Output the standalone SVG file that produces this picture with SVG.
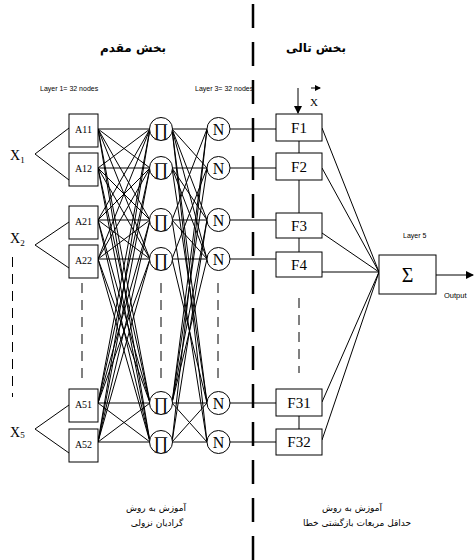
<svg xmlns="http://www.w3.org/2000/svg" width="474" height="560" viewBox="0 0 474 560">
<defs>
<style>
.c{stroke:#000;stroke-width:1;fill:none}
.box{fill:#fff;stroke:#000;stroke-width:1}
text{opacity:0.99}
.ser{font-family:"Liberation Serif","Times New Roman",serif;fill:#000}
.san{font-family:"Liberation Sans",Arial,sans-serif;fill:#000}
.fa{font-family:"DejaVu Sans","Noto Sans",sans-serif;fill:#000}
.d{stroke:#000;stroke-width:1;stroke-dasharray:10 7;fill:none}
</style>
<marker id="ah" markerWidth="8" markerHeight="8" refX="7" refY="4" orient="auto" markerUnits="userSpaceOnUse"><path d="M0,0 L8,4 L0,8 Z" fill="#000"/></marker>
<marker id="ahs" markerWidth="6" markerHeight="6" refX="5" refY="3" orient="auto" markerUnits="userSpaceOnUse"><path d="M0,0 L6,3 L0,6 Z" fill="#000"/></marker>
</defs>
<rect width="474" height="560" fill="#fff"/>
<g id="titles">
<text class="fa" x="133" y="52" font-size="12" font-weight="bold" text-anchor="middle">بخش مقدم</text>
<text class="fa" x="316" y="52" font-size="12" font-weight="bold" text-anchor="middle">بخش تالی</text>
<text class="san" x="40" y="91" font-size="7">Layer 1= 32 nodes</text>
<text class="san" x="195" y="91" font-size="7">Layer 3= 32 nodes</text>
<text class="san" x="403" y="238" font-size="7">Layer 5</text>
<text class="san" x="444" y="298" font-size="7.5">Output</text>
<text class="fa" x="156" y="511" font-size="9" text-anchor="middle">آموزش به روش</text>
<text class="fa" x="157" y="526" font-size="9" text-anchor="middle">گرادیان نزولی</text>
<text class="fa" x="352" y="511" font-size="9" text-anchor="middle">آموزش به روش</text>
<text class="fa" x="357" y="526" font-size="9" text-anchor="middle">حداقل مربعات بازگشتی خطا</text>
</g>
<g id="connectors">
<line x1="253" y1="4" x2="253" y2="560" stroke="#000" stroke-width="2.5" stroke-dasharray="24 14"/>
<path class="d" d="M12.5,257 V397 M82,283 V378 M161,283 V378 M218,283 V378 M299,298 V373"/>
<path class="c" d="M69,128 L35,154 L69,180 M69,222 L35,245 L69,268 M69,405 L35,429 L69,453"/>
<path class="c" d="M98,129 L150,129 M98,129 L150,168 M98,129 L150,220 M98,129 L150,259 M98,129 L150,403 M98,129 L150,442
M98,168 L150,129 M98,168 L150,168 M98,168 L150,220 M98,168 L150,259 M98,168 L150,403 M98,168 L150,442
M98,220 L150,129 M98,220 L150,168 M98,220 L150,220 M98,220 L150,259 M98,220 L150,403 M98,220 L150,442
M98,259 L150,129 M98,259 L150,168 M98,259 L150,220 M98,259 L150,259 M98,259 L150,403 M98,259 L150,442
M98,403 L150,129 M98,403 L150,168 M98,403 L150,220 M98,403 L150,259 M98,403 L150,403 M98,403 L150,442
M98,442 L150,129 M98,442 L150,168 M98,442 L150,220 M98,442 L150,259 M98,442 L150,403 M98,442 L150,442"/>
<path class="c" d="M172,129 L207,129 M172,129 L207,168 M172,129 L207,220 M172,129 L207,259 M172,129 L207,403 M172,129 L207,442
M172,168 L207,168 M172,168 L207,220 M172,168 L207,259 M172,168 L207,403
M172,220 L207,129 M172,220 L207,220 M172,220 L207,259 M172,220 L207,442
M172,259 L207,168 M172,259 L207,259 M172,259 L207,403
M172,403 L207,129 M172,403 L207,168 M172,403 L207,220 M172,403 L207,259 M172,403 L207,403 M172,403 L207,442
M172,442 L207,129 M172,442 L207,220 M172,442 L207,403 M172,442 L207,442"/>
<path class="c" d="M230,129 H276 M230,168 H276 M230,220 H276 M230,259 H276 M230,403 H276 M230,442 H276"/>
<path class="c" d="M299,141 V153 M299,180 V213 M299,238 V252 M299,416 V429"/>
<path class="c" d="M322,128 L379,272 M322,168 L379,272 M322,233 L379,272 M322,272 L379,272 M322,402 L379,272 M322,440 L379,272"/>
<line class="c" x1="436" y1="275" x2="473" y2="275" marker-end="url(#ah)"/>
<line class="c" x1="298" y1="88" x2="298" y2="113" stroke-width="1.5" marker-end="url(#ah)"/>
<line class="c" x1="311" y1="88" x2="320" y2="88" marker-end="url(#ahs)"/>
</g>
<g id="inputs">
<text class="ser" x="10" y="160" font-size="14">X<tspan font-size="9" dy="3">1</tspan></text>
<text class="ser" x="10" y="243" font-size="14">X<tspan font-size="9" dy="3">2</tspan></text>
<text class="ser" x="10" y="437" font-size="14">X<tspan font-size="9" dy="1">5</tspan></text>
<text class="ser" x="310" y="106" font-size="11">X</text>
</g>
<g id="A11"><rect class="box" x="69" y="114" width="29" height="33"/><text class="ser" x="83.5" y="133" font-size="10" text-anchor="middle">A11</text></g>
<g id="A12"><rect class="box" x="69" y="153" width="29" height="33"/><text class="ser" x="83.5" y="172" font-size="10" text-anchor="middle">A12</text></g>
<g id="A21"><rect class="box" x="69" y="206" width="29" height="33"/><text class="ser" x="83.5" y="225" font-size="10" text-anchor="middle">A21</text></g>
<g id="A22"><rect class="box" x="69" y="245" width="29" height="33"/><text class="ser" x="83.5" y="264" font-size="10" text-anchor="middle">A22</text></g>
<g id="A51"><rect class="box" x="69" y="389" width="29" height="33"/><text class="ser" x="83.5" y="408" font-size="10" text-anchor="middle">A51</text></g>
<g id="A52"><rect class="box" x="69" y="429" width="29" height="33"/><text class="ser" x="83.5" y="448" font-size="10" text-anchor="middle">A52</text></g>
<g id="P1"><circle class="box" cx="161" cy="129" r="11.5"/><text class="ser" x="161" y="136" font-size="18" text-anchor="middle">∏</text></g>
<g id="P2"><circle class="box" cx="161" cy="168" r="11.5"/><text class="ser" x="161" y="175" font-size="18" text-anchor="middle">∏</text></g>
<g id="P3"><circle class="box" cx="161" cy="220" r="11.5"/><text class="ser" x="161" y="227" font-size="18" text-anchor="middle">∏</text></g>
<g id="P4"><circle class="box" cx="161" cy="259" r="11.5"/><text class="ser" x="161" y="266" font-size="18" text-anchor="middle">∏</text></g>
<g id="P31"><circle class="box" cx="161" cy="403" r="11.5"/><text class="ser" x="161" y="410" font-size="18" text-anchor="middle">∏</text></g>
<g id="P32"><circle class="box" cx="161" cy="442" r="11.5"/><text class="ser" x="161" y="449" font-size="18" text-anchor="middle">∏</text></g>
<g id="N1"><circle class="box" cx="218.5" cy="129" r="11.5"/><text class="ser" x="218.5" y="135" font-size="16" text-anchor="middle">N</text></g>
<g id="N2"><circle class="box" cx="218.5" cy="168" r="11.5"/><text class="ser" x="218.5" y="174" font-size="16" text-anchor="middle">N</text></g>
<g id="N3"><circle class="box" cx="218.5" cy="220" r="11.5"/><text class="ser" x="218.5" y="226" font-size="16" text-anchor="middle">N</text></g>
<g id="N4"><circle class="box" cx="218.5" cy="259" r="11.5"/><text class="ser" x="218.5" y="265" font-size="16" text-anchor="middle">N</text></g>
<g id="N31"><circle class="box" cx="218.5" cy="403" r="11.5"/><text class="ser" x="218.5" y="409" font-size="16" text-anchor="middle">N</text></g>
<g id="N32"><circle class="box" cx="218.5" cy="442" r="11.5"/><text class="ser" x="218.5" y="448" font-size="16" text-anchor="middle">N</text></g>
<g id="F1"><rect class="box" x="276" y="114" width="46" height="27"/><text class="ser" x="299" y="133" font-size="15" text-anchor="middle">F1</text></g>
<g id="F2"><rect class="box" x="276" y="153" width="46" height="27"/><text class="ser" x="299" y="172" font-size="15" text-anchor="middle">F2</text></g>
<g id="F3"><rect class="box" x="276" y="213" width="46" height="25"/><text class="ser" x="299" y="231" font-size="15" text-anchor="middle">F3</text></g>
<g id="F4"><rect class="box" x="276" y="252" width="46" height="25"/><text class="ser" x="299" y="270" font-size="15" text-anchor="middle">F4</text></g>
<g id="F31"><rect class="box" x="276" y="389" width="46" height="27"/><text class="ser" x="299" y="408" font-size="15" text-anchor="middle">F31</text></g>
<g id="F32"><rect class="box" x="276" y="429" width="46" height="26"/><text class="ser" x="299" y="447" font-size="15" text-anchor="middle">F32</text></g>
<g id="S"><rect class="box" x="379" y="255" width="57" height="39"/><text class="ser" x="407.5" y="282" font-size="20" text-anchor="middle">Σ</text></g>
</svg>
